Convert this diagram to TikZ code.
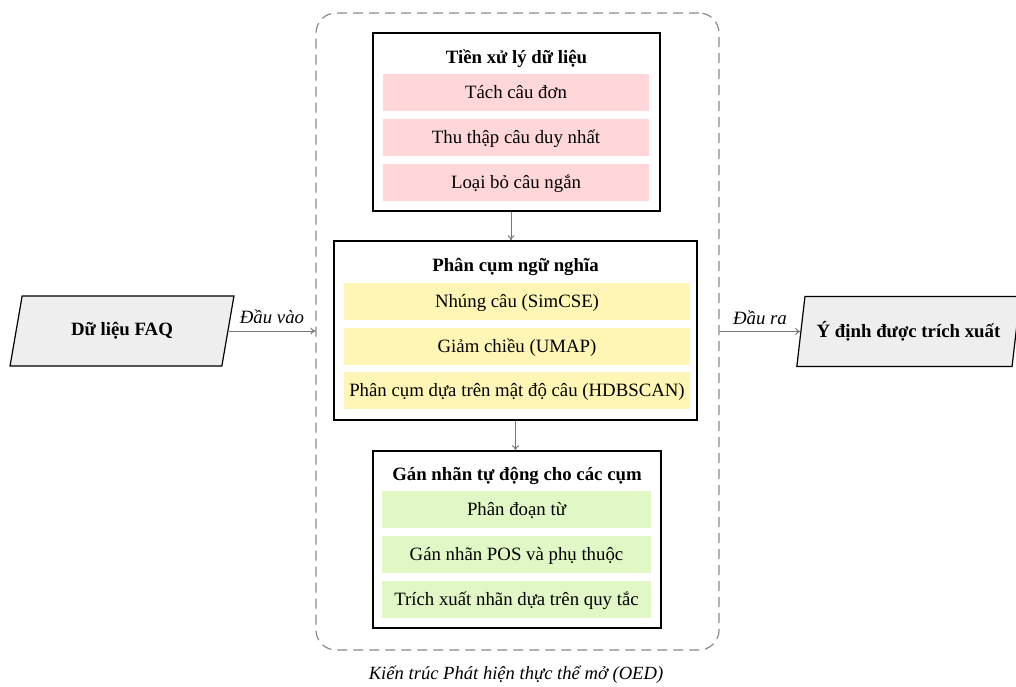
\documentclass[tikz,border=0pt]{standalone}
\usepackage{fontspec}
\setmainfont{Liberation Serif}
\usetikzlibrary{shapes.geometric,arrows.meta}
\definecolor{pinkf}{HTML}{FFD7D9}
\definecolor{yellf}{HTML}{FFF6B5}
\definecolor{greenf}{HTML}{E1F8C6}
\definecolor{paraf}{HTML}{EEEEEE}
\definecolor{arrg}{HTML}{777777}
\definecolor{dashg}{HTML}{8A8A8A}
\begin{document}
\begin{tikzpicture}[x=1pt,y=-1pt,font=\fontsize{18.8}{22}\selectfont,
  stage/.style={draw=black,line width=1.4pt,fill=white,inner sep=0pt},
  sub/.style={inner sep=0pt,minimum height=37pt,text height=13pt,text depth=1pt},
  ttl/.style={font=\fontsize{18.8}{22}\selectfont\bfseries,inner sep=0pt,text height=13pt,text depth=1pt},
  para/.style={trapezium,trapezium left angle=70,trapezium right angle=110,trapezium stretches=true,
    draw=black,line width=1.2pt,fill=paraf,minimum width=224pt,minimum height=70pt,
    font=\fontsize{18.8}{22}\selectfont\bfseries,inner sep=0pt},
  arr/.style={draw=arrg,line width=1pt,-{To[length=5pt,width=7pt]}},
  lbl/.style={midway,above,yshift=3pt,font=\fontsize{18.8}{22}\selectfont\itshape},
  frame/.style={draw=dashg,line width=1.2pt,dash pattern=on 10pt off 6pt,rounded corners=20pt,
    inner sep=0pt,minimum width=403pt,minimum height=637pt}]
\useasboundingbox (0,0) rectangle (1016,687);
% outer dashed frame
\node[frame] (oed) at (517.5,331.5) {};
\node[font=\fontsize{18.6}{22}\selectfont\itshape,inner sep=0pt] (cap) at (516,675) {Kiến trúc Phát hiện thực thể mở (OED)};
% stage 1
\node[stage,minimum width=287pt,minimum height=178pt] (pre) at (516.5,122) {};
\node[ttl] (preT) at (516.5,58) {Tiền xử lý dữ liệu};
\node[sub,fill=pinkf,minimum width=266pt] (p1) at (516,92.5) {Tách câu đơn};
\node[sub,fill=pinkf,minimum width=266pt] (p2) at (516,138) {Thu thập câu duy nhất};
\node[sub,fill=pinkf,minimum width=266pt] (p3) at (516,182.5) {Loại bỏ câu ngắn};
% stage 2
\node[stage,minimum width=363pt,minimum height=179pt] (sem) at (515.5,330.5) {};
\node[ttl] (semT) at (515.5,265) {Phân cụm ngữ nghĩa};
\node[sub,fill=yellf,minimum width=346pt] (s1) at (517,301.5) {Nhúng câu (SimCSE)};
\node[sub,fill=yellf,minimum width=346pt] (s2) at (517,346) {Giảm chiều (UMAP)};
\node[sub,fill=yellf,minimum width=346pt] (s3) at (517,390.5) {Phân cụm dựa trên mật độ câu (HDBSCAN)};
% stage 3
\node[stage,minimum width=288pt,minimum height=177pt] (lab) at (517,539.5) {};
\node[ttl] (labT) at (517,474) {Gán nhãn tự động cho các cụm};
\node[sub,fill=greenf,minimum width=269pt] (l1) at (516.5,509.5) {Phân đoạn từ};
\node[sub,fill=greenf,minimum width=269pt] (l2) at (516.5,554.5) {Gán nhãn POS và phụ thuộc};
\node[sub,fill=greenf,minimum width=269pt] (l3) at (516.5,599.5) {Trích xuất nhãn dựa trên quy tắc};
% input / output
\node[para] (faq) at (122,331) {Dữ liệu FAQ};
\node[para] (out) at (908.5,331.5) {Ý định được trích xuất};
% connectors
\draw[arr] ([xshift=-5.5pt]pre.south) -- ([xshift=-5.5pt]pre.south |- sem.north);
\draw[arr] (sem.south) -- (sem.south |- lab.north);
\draw[arr] (faq.east) -- (faq.east -| oed.west) node[lbl] {Đầu vào};
\draw[arr] (oed.east |- out.west) -- (out.west) node[lbl] {Đầu ra};
\end{tikzpicture}
\end{document}
